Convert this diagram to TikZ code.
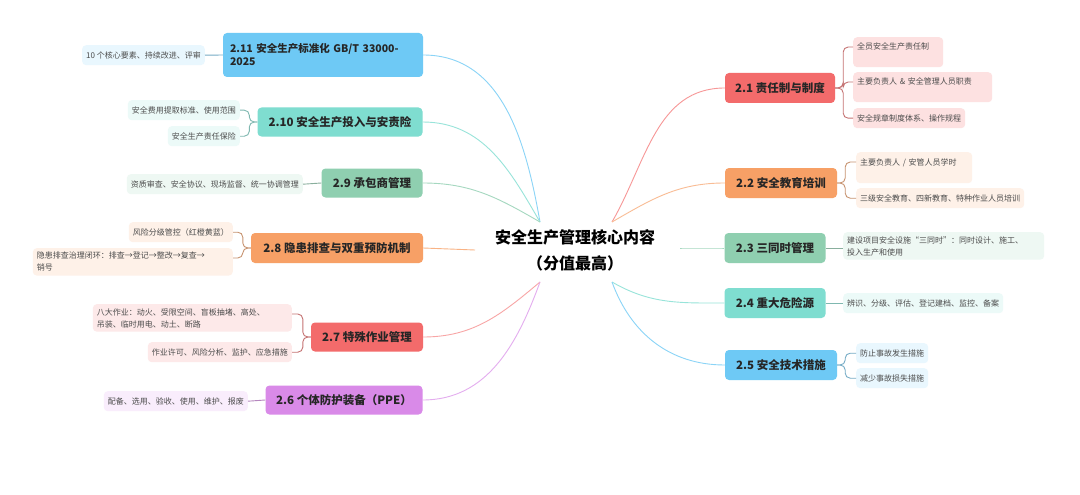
\documentclass[tikz,border=0pt]{standalone}
\usepackage{fontspec}
\setmainfont{Noto Sans CJK SC}
\begin{document}
\begin{tikzpicture}[x=1pt,y=-1pt,
 br/.style={rounded corners=4pt,font=\fontsize{11.5}{13}\selectfont\bfseries,text=black!85,inner sep=0pt,anchor=center},
 lf/.style={rounded corners=4pt,font=\fontsize{8}{12}\selectfont,text=black!70,inner xsep=4pt,inner ysep=4pt,align=left},
 ln/.style={line width=0.9pt}]
\definecolor{cR}{HTML}{F36B6B}\definecolor{cO}{HTML}{F7A066}
\definecolor{cG}{HTML}{8FCFB0}\definecolor{cT}{HTML}{7FDDD0}
\definecolor{cB}{HTML}{6EC9F5}\definecolor{cP}{HTML}{D98AE8}
\useasboundingbox[fill=white] (0,0) rectangle (1080,495);
\node[font=\fontsize{16}{26}\selectfont\bfseries,align=center] (cn) at (575,250) {安全生产管理核心内容\\（分值最高）};
\coordinate (tl) at (540,222);\coordinate (bl) at (540,282);\coordinate (ml) at (475,250);
\coordinate (tr) at (612,222);\coordinate (br2) at (612,282);\coordinate (mr) at (680,248);
% right branches
\node[br,fill=cR,minimum width=110,minimum height=30] (b1) at (780,88) {2.1 责任制与制度};
\node[br,fill=cO,minimum width=112,minimum height=30] (b2) at (781,183) {2.2 安全教育培训};
\node[br,fill=cG,minimum width=101,minimum height=30] (b3) at (775,248) {2.3 三同时管理};
\node[br,fill=cT,minimum width=101,minimum height=30] (b4) at (775,303) {2.4 重大危险源};
\node[br,fill=cB,minimum width=112,minimum height=30] (b5) at (781,365) {2.5 安全技术措施};
% left branches
\node[br,fill=cB,minimum width=200,minimum height=44,align=left,text width=186,font=\fontsize{10.5}{13}\selectfont\bfseries] (b11) at (323,55) {2.11 安全生产标准化 GB/T 33000-\\2025};
\node[br,fill=cT,minimum width=165,minimum height=29] (b10) at (340,122) {2.10 安全生产投入与安责险};
\node[br,fill=cG,minimum width=101,minimum height=29] (b9) at (372,183) {2.9 承包商管理};
\node[br,fill=cO,minimum width=172,minimum height=30] (b8) at (337,248) {2.8 隐患排查与双重预防机制};
\node[br,fill=cR,minimum width=112,minimum height=29] (b7) at (367,337) {2.7 特殊作业管理};
\node[br,fill=cP,minimum width=157,minimum height=29] (b6) at (344,400) {2.6 个体防护装备（PPE）};
% main connectors
\draw[ln,cR!70] (b1.west) to[out=180,in=60] (tr);
\draw[ln,cO!70] (b2.west) to[out=180,in=30] (tr);
\draw[ln,cG!80] (b3.west) to[out=180,in=0] (mr);
\draw[ln,cT!80] (b4.west) to[out=180,in=-30] (br2);
\draw[ln,cB!80] (b5.west) to[out=180,in=-70] (br2);
\draw[ln,cB!80] (b11.east) to[out=0,in=100] (tl);
\draw[ln,cT!80] (b10.east) to[out=0,in=120] (tl);
\draw[ln,cG!80] (b9.east) to[out=0,in=150] (tl);
\draw[ln,cO!80] (b8.east) -- (ml);
\draw[ln,cR!60] (b7.east) to[out=0,in=-140] (bl);
\draw[ln,cP!70] (b6.east) to[out=0,in=-110] (bl);
% right leaves
\node[lf,fill=cR!20,anchor=north west,minimum height=30,text width=82,text depth=12pt] (l11) at (853,37) {全员安全生产责任制};
\node[lf,fill=cR!20,anchor=north west,minimum height=30,text width=131,text depth=12pt] (l12) at (853,72) {主要负责人 \& 安全管理人员职责};
\node[lf,fill=cR!20,anchor=north west,minimum height=20] (l13) at (853,108) {安全规章制度体系、操作规程};
\node[lf,fill=cO!15,anchor=north west,minimum height=31,text width=108,text depth=12pt] (l21) at (856,152) {主要负责人 / 安管人员学时};
\node[lf,fill=cO!15,anchor=north west,minimum height=20] (l22) at (856,188) {三级安全教育、四新教育、特种作业人员培训};
\node[lf,fill=cG!15,anchor=north west,text width=193] (l31) at (843,232) {建设项目安全设施“三同时”：同时设计、施工、\\投入生产和使用};
\node[lf,fill=cT!15,anchor=north west,minimum height=20] (l41) at (843,293) {辨识、分级、评估、登记建档、监控、备案};
\node[lf,fill=cB!15,anchor=north west,minimum height=20] (l51) at (856,343) {防止事故发生措施};
\node[lf,fill=cB!15,anchor=north west,minimum height=20] (l52) at (856,368) {减少事故损失措施};
% left leaves
\node[lf,fill=cB!15,anchor=north east,minimum height=20] (l111) at (205,45) {10 个核心要素、持续改进、评审};
\node[lf,fill=cT!15,anchor=north east,minimum height=20] (l101) at (240,100) {安全费用提取标准、使用范围};
\node[lf,fill=cT!15,anchor=north east,minimum height=20] (l102) at (240,126) {安全生产责任保险};
\node[lf,fill=cG!15,anchor=north east,minimum height=20] (l91) at (303,174) {资质审查、安全协议、现场监督、统一协调管理};
\node[lf,fill=cO!15,anchor=north east,minimum height=20] (l81) at (233,222) {风险分级管控（红橙黄蓝）};
\node[lf,fill=cO!15,anchor=north east,text width=192] (l82) at (233,248) {隐患排查治理闭环：排查→登记→整改→复查→\\销号};
\node[lf,fill=cR!15,anchor=north east,text width=191] (l71) at (292,304) {八大作业：动火、受限空间、盲板抽堵、高处、\\吊装、临时用电、动土、断路};
\node[lf,fill=cR!15,anchor=north east,minimum height=20] (l72) at (292,342) {作业许可、风险分析、监护、应急措施};
\node[lf,fill=cP!15,anchor=north east,minimum height=20] (l61) at (248,391) {配备、选用、验收、使用、维护、报废};
% leaf connectors
\foreach \b/\l/\c in {b1/l11/cR,b1/l12/cR,b2/l21/cO}
  \draw[ln,\c!60!gray,rounded corners=5pt] (\b.east) -- ++(8,0) |- ([yshift=-10pt]\l.west|-\l.north);
\foreach \b/\l/\c in {b1/l13/cR,b2/l22/cO,b5/l51/cB,b5/l52/cB}
  \draw[ln,\c!60!gray,rounded corners=5pt] (\b.east) -- ++(8,0) |- (\l.west);
\draw[ln,cG!60!gray] (b3.east) -- (l31.west|-b3.east);
\draw[ln,cT!60!gray] (b4.east) -- (l41.west|-b4.east);
\draw[ln,cB!60!gray] (b11.west) -- (l111.east);
\draw[ln,cG!60!gray] (b9.west) -- (l91.east);
\draw[ln,cP!60!gray] (b6.west) -- (l61.east);
\foreach \b/\l/\c in {b10/l101/cT,b10/l102/cT,b8/l81/cO,b7/l72/cR}
  \draw[ln,\c!60!gray,rounded corners=5pt] (\b.west) -- ++(-8,0) |- (\l.east);
\foreach \b/\l/\c in {b8/l82/cO,b7/l71/cR}
  \draw[ln,\c!60!gray,rounded corners=5pt] (\b.west) -- ++(-8,0) |- ([yshift=-10pt]\l.north east);
\end{tikzpicture}
\end{document}
